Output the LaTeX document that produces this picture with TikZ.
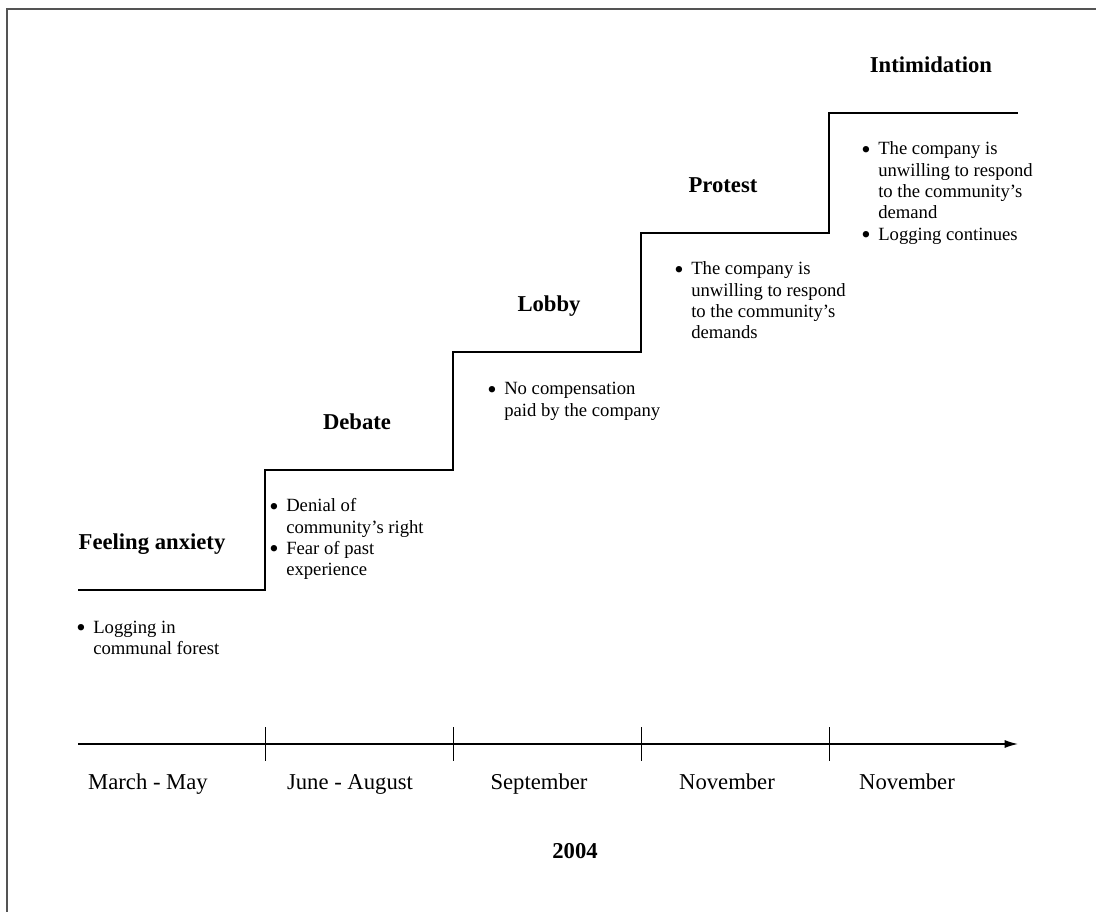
\documentclass[tikz,border=0pt]{standalone}
\usepackage{fontspec}
\usetikzlibrary{arrows.meta}
\setmainfont{Liberation Serif}
\newcommand{\bodyfont}{\fontsize{14}{16}\selectfont}
\newcommand{\bigfont}{\fontsize{17}{20}\selectfont}
\newcommand{\bul}{\makebox[12.75pt][l]{\raisebox{-2.3pt}{\fontsize{20}{20}\selectfont\textbullet}}}
\tikzset{
  frame/.style={draw=black!67, line width=1.5pt},
  stepline/.style={draw=black, line width=1pt},
  heading/.style={inner sep=0pt, anchor=base, font=\bigfont\bfseries},
  blist/.style={inner sep=0pt, anchor=base west, font=\bodyfont},
  datelbl/.style={inner sep=0pt, anchor=base, font=\bigfont},
  tick/.style={draw=black, line width=0.6pt}
}
\begin{document}
\begin{tikzpicture}[x=0.75pt, y=-0.75pt]
\useasboundingbox (0,0) rectangle (1096,912);
% frame
\draw[frame] (1096,9) -- (7,9) -- (7,912);
% staircase
\coordinate (s0) at (78,590);
\coordinate (s1) at (265,590);
\coordinate (s2) at (265,470);
\coordinate (s3) at (453,470);
\coordinate (s4) at (453,352);
\coordinate (s5) at (641,352);
\coordinate (s6) at (641,233);
\coordinate (s7) at (829,233);
\coordinate (s8) at (829,113);
\coordinate (s9) at (1018,113);
\draw[stepline] (s0) -- (s1) -- (s2) -- (s3) -- (s4) -- (s5) -- (s6) -- (s7) -- (s8) -- (s9);
% headings
\node[heading] (h1) at (152,550) {Feeling anxiety};
\node[heading] (h2) at (357,430) {Debate};
\node[heading] (h3) at (549,312) {Lobby};
\node[heading] (h4) at (723,193) {Protest};
\node[heading] (h5) at (931,73) {Intimidation};
% bullet lists
\node[blist] (b1) at (76,633) {\begin{tabular}[t]{@{}l@{}l@{}}\bul&Logging in\\&communal forest\end{tabular}};
\node[blist] (b2) at (269,512) {\begin{tabular}[t]{@{}l@{}l@{}}\bul&Denial of\\&community's right\\\bul&Fear of past\\&experience\end{tabular}};
\node[blist] (b3) at (487,395) {\begin{tabular}[t]{@{}l@{}l@{}}\bul&No compensation\\&paid by the company\end{tabular}};
\node[blist] (b4) at (674,275) {\begin{tabular}[t]{@{}l@{}l@{}}\bul&The company is\\&unwilling to respond\\&to the community's\\&demands\end{tabular}};
\node[blist] (b5) at (861,155) {\begin{tabular}[t]{@{}l@{}l@{}}\bul&The company is\\&unwilling to respond\\&to the community's\\&demand\\\bul&Logging continues\end{tabular}};
% time axis
\coordinate (a0) at (78,744);
\coordinate (a1) at (1018,744);
\draw[stepline, -{Latex[length=10pt,width=6pt]}] (a0) -- (a1);
\foreach \x/\n in {265/t1,453/t2,641/t3,829/t4}{
  \coordinate (\n a) at (\x,727);
  \coordinate (\n b) at (\x,761);
  \draw[tick] (\n a) -- (\n b);
}
\node[datelbl] (d1) at (148,789) {March - May};
\node[datelbl] (d2) at (350,789) {June - August};
\node[datelbl] (d3) at (539,789) {September};
\node[datelbl] (d4) at (727,789) {November};
\node[datelbl] (d5) at (907,789) {November};
\node[heading] (yr) at (575,858) {2004};
\end{tikzpicture}
\end{document}
